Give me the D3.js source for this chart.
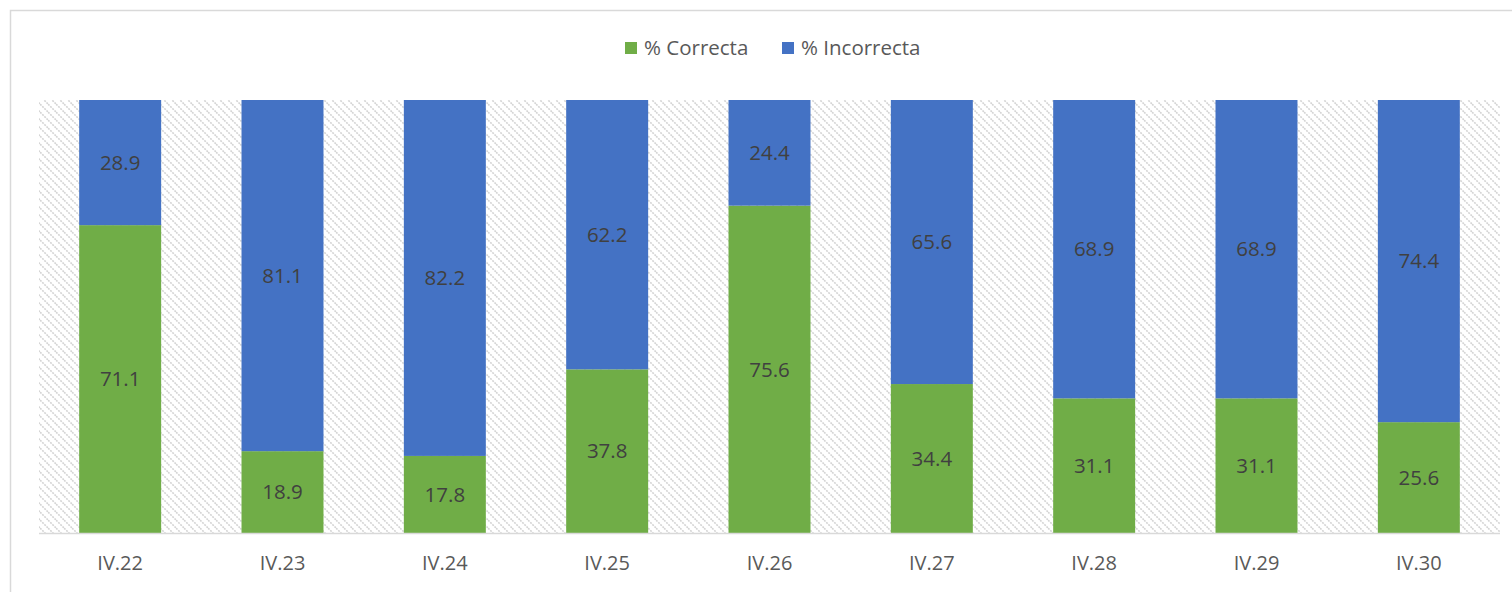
<!DOCTYPE html>
<html><head><meta charset="utf-8">
<script src="https://cdn.jsdelivr.net/npm/d3@7"></script>
<style>html,body{margin:0;padding:0;background:#fff;}svg{display:block;}</style>
</head><body>
<script>
const categories = ["IV.22","IV.23","IV.24","IV.25","IV.26","IV.27","IV.28","IV.29","IV.30"];
const correcta = [71.1,18.9,17.8,37.8,75.6,34.4,31.1,31.1,25.6];
const incorrecta = [28.9,81.1,82.2,62.2,24.4,65.6,68.9,68.9,74.4];
const seriesNames = ["% Correcta","% Incorrecta"];
const colors = ["#70AD47","#4472C4"];

(function(){
const W = 1512, H = 592;
const svg = d3.select("body").append("svg").attr("width",W).attr("height",H);
const font = "'Open Sans', sans-serif";

// hatch pattern
const defs = svg.append("defs");
const pat = defs.append("pattern").attr("id","hatch").attr("patternUnits","userSpaceOnUse")
  .attr("width",8).attr("height",8);
pat.append("path").attr("d","M-2,-2 L10,10 M-2,6 L2,10 M6,-2 L10,2")
  .attr("stroke","#d4d4d4").attr("stroke-width",1.6).attr("stroke-dasharray","2,1");

// outer border
svg.append("path").attr("d",`M10.5,${H} L10.5,10.5 L${W},10.5`).attr("fill","none")
  .attr("stroke","#d9d9d9").attr("stroke-width",1.5);

const pLeft = 39, pRight = 1500, pTop = 100, pBottom = 533;
const x = d3.scaleBand().domain(categories).range([pLeft,pRight]).paddingInner(0.495).paddingOuter(0.2475);
const y = d3.scaleLinear().domain([0,100]).range([pBottom,pTop]);

svg.append("rect").attr("x",pLeft).attr("y",pTop).attr("width",pRight-pLeft).attr("height",pBottom-pTop)
  .attr("fill","url(#hatch)");

const stackData = categories.map((c,i)=>({c, a:correcta[i], b:incorrecta[i]}));
const stack = d3.stack().keys(["a","b"])(stackData);

stack.forEach((layer,li)=>{
  const g = svg.append("g");
  g.selectAll("rect").data(layer).join("rect")
    .attr("x",d=>x(d.data.c)).attr("width",x.bandwidth())
    .attr("y",d=>y(d[1])).attr("height",d=>y(d[0])-y(d[1]))
    .attr("fill",colors[li]);
  g.selectAll("text").data(layer).join("text")
    .attr("x",d=>x(d.data.c)+x.bandwidth()/2)
    .attr("y",d=>(y(d[0])+y(d[1]))/2)
    .attr("dy","0.35em").attr("text-anchor","middle")
    .attr("font-family",font).attr("font-size",20.5).attr("fill","#404040")
    .text(d=>(d[1]-d[0]).toFixed(1));
});

// axis
const ax = svg.append("g").attr("transform",`translate(0,${pBottom})`)
  .call(d3.axisBottom(x).tickSize(0).tickPadding(23));
ax.select(".domain").attr("stroke","#d9d9d9").attr("stroke-width",1.5)
  .attr("d",`M${pLeft},0.5H${pRight}`);
ax.selectAll("text").attr("font-family",font).attr("font-size",20).attr("fill","#595959");

// legend
const leg = svg.append("g");
const legX = [625, 782];
seriesNames.forEach((n,i)=>{
  leg.append("rect").attr("x",legX[i]).attr("y",42).attr("width",12).attr("height",12).attr("fill",colors[i]);
  leg.append("text").attr("x",legX[i]+19).attr("y",48).attr("dy","0.35em")
    .attr("font-family",font).attr("font-size",20.5).attr("fill","#595959").text(n);
});
})();
</script>
</body></html>
